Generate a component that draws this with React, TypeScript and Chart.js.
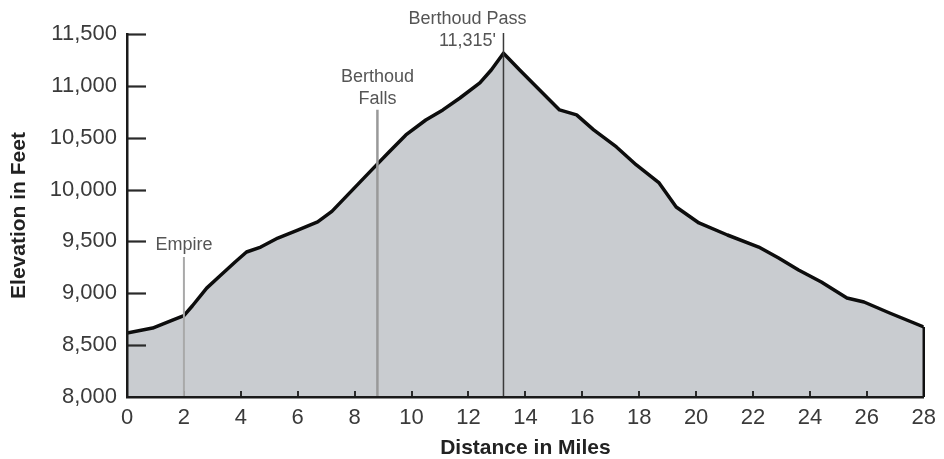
import React, { useEffect, useRef } from "react";
import { Chart, registerables } from "chart.js";

Chart.register(...registerables);

// ---- data ----
const distanceMiles = [
  0, 0.9, 1.6, 2.0, 2.3, 2.8, 3.3, 3.8, 4.2, 4.7,
  5.3, 6.0, 6.7, 7.2, 7.9, 8.6, 9.2, 9.8, 10.5, 11.1,
  11.7, 12.4, 12.8, 13.23, 13.8, 14.5, 15.2, 15.8, 16.4, 17.2,
  17.9, 18.7, 19.3, 20.1, 21.1, 22.2, 22.9, 23.6, 24.4, 25.3,
  25.9, 26.8, 28.0,
];
const elevationFeet = [
  8617, 8665, 8742, 8785, 8880, 9050, 9176, 9302, 9398, 9446,
  9533, 9610, 9688, 9790, 9990, 10190, 10360, 10527, 10671, 10768,
  10883, 11028, 11153, 11315, 11153, 10960, 10768, 10720, 10575, 10411,
  10237, 10064, 9832, 9678, 9562, 9446, 9340, 9225, 9109, 8955,
  8916, 8810, 8675,
];

const xTickValues = [0, 2, 4, 6, 8, 10, 12, 14, 16, 18, 20, 22, 24, 26, 28];
const yTickValues = [8000, 8500, 9000, 9500, 10000, 10500, 11000, 11500];

const markerLabels = [["Empire"], ["Berthoud", "Falls"], ["Berthoud Pass", "11,315'"]];
const markerMiles = [2.0, 8.8, 13.23];
const markerTopFeet = [9350, 10770, 11510];

const xTitle = "Distance in Miles";
const yTitle = "Elevation in Feet";

// ---- styles ----
const FONT = "'Liberation Sans', Arial, Helvetica, sans-serif";
const markerStyles = [
  { color: "#a9a9a9", width: 2, labelDx: 0, labelDy: -12, text: "#555" },
  { color: "#999999", width: 2.5, labelDx: 0, labelDy: -11, text: "#555" },
  { color: "#3a3a3a", width: 1.5, labelDx: -36, labelDy: 8, text: "#555" },
];

const profileDecor = {
  id: "profileDecor",
  afterDatasetsDraw(chart: any) {
    const { ctx, chartArea, scales } = chart;
    const x = scales.x;
    const y = scales.y;
    const base = y.getPixelForValue(yTickValues[0]);
    ctx.save();

    // closing edge at the end of the profile
    const lastI = distanceMiles.length - 1;
    const ex = x.getPixelForValue(distanceMiles[lastI]);
    ctx.strokeStyle = "#111";
    ctx.lineWidth = 2.5;
    ctx.beginPath();
    ctx.moveTo(ex, y.getPixelForValue(elevationFeet[lastI]));
    ctx.lineTo(ex, base);
    ctx.stroke();

    // inner tick marks on y axis
    ctx.strokeStyle = "#2a2a2a";
    ctx.lineWidth = 2.2;
    yTickValues.slice(1).forEach((v) => {
      const py = Math.round(y.getPixelForValue(v)) + 0.5;
      ctx.beginPath();
      ctx.moveTo(chartArea.left, py);
      ctx.lineTo(chartArea.left + 19, py);
      ctx.stroke();
    });

    // inner tick marks on x axis
    ctx.lineWidth = 2;
    xTickValues.slice(1, -1).forEach((v) => {
      const px = Math.round(x.getPixelForValue(v));
      ctx.beginPath();
      ctx.moveTo(px, base);
      ctx.lineTo(px, base - 6);
      ctx.stroke();
    });

    // markers
    markerMiles.forEach((m, i) => {
      const st = markerStyles[i];
      const px = x.getPixelForValue(m);
      const top = y.getPixelForValue(markerTopFeet[i]);
      ctx.strokeStyle = st.color;
      ctx.lineWidth = st.width;
      ctx.beginPath();
      ctx.moveTo(px, top);
      ctx.lineTo(px, base);
      ctx.stroke();

      ctx.fillStyle = st.text;
      ctx.font = `18px ${FONT}`;
      ctx.textAlign = "center";
      ctx.textBaseline = "middle";
      const lines = markerLabels[i];
      const lh = 22;
      lines.forEach((t, k) => {
        const ly = top + st.labelDy - (lines.length - 1 - k) * lh;
        ctx.fillText(t, px + st.labelDx, ly);
      });
    });

    ctx.restore();
  },
};

export default function App() {
  const canvasRef = useRef<HTMLCanvasElement | null>(null);

  useEffect(() => {
    document.body.style.margin = "0";
    document.body.style.background = "#ffffff";
    const canvas = canvasRef.current;
    if (!canvas) return;

    const points = distanceMiles.map((d, i) => ({ x: d, y: elevationFeet[i] }));

    const chart = new Chart(canvas, {
      type: "line",
      data: {
        datasets: [
          {
            data: points,
            borderColor: "#0d0d0d",
            borderWidth: 3.5,
            backgroundColor: "#c9ccd0",
            fill: "start",
            pointRadius: 0,
            tension: 0,
            borderJoinStyle: "round",
          } as any,
        ],
      },
      options: {
        animation: false,
        responsive: false,
        devicePixelRatio: 1,
        layout: { padding: { left: 0, right: 19, top: 34, bottom: 0 } },
        plugins: {
          legend: { display: false },
          tooltip: { enabled: false },
        },
        scales: {
          x: {
            type: "linear",
            min: 0,
            max: 28,
            afterFit: (s: any) => {
              s.height = 62;
            },
            afterBuildTicks: (s: any) => {
              s.ticks = xTickValues.map((v) => ({ value: v }));
            },
            grid: { display: false, drawTicks: false },
            border: { display: true, color: "#1a1a1a", width: 2.5, z: 1 },
            ticks: {
              padding: 8,
              color: "#3a3a3a",
              font: { family: FONT, size: 22 },
              maxRotation: 0,
              autoSkip: false,
            },
            title: {
              display: true,
              text: xTitle,
              color: "#222",
              font: { family: FONT, size: 21, weight: "bold", lineHeight: 1 },
              padding: { top: 0, bottom: 0 },
            },
          },
          y: {
            type: "linear",
            min: 8000,
            max: 11500,
            afterFit: (s: any) => {
              s.width = 127;
            },
            afterBuildTicks: (s: any) => {
              s.ticks = yTickValues.map((v) => ({ value: v }));
            },
            grid: { display: false, drawTicks: false },
            border: { display: true, color: "#1a1a1a", width: 2.5, z: 1 },
            ticks: {
              padding: 10,
              color: "#3a3a3a",
              font: { family: FONT, size: 22 },
              autoSkip: false,
              callback: (v: any) => Number(v).toLocaleString("en-US"),
            },
            title: {
              display: true,
              text: yTitle,
              color: "#222",
              font: { family: FONT, size: 21, weight: "bold", lineHeight: 1 },
              padding: { top: 9, bottom: 0 },
            },
          },
        },
      } as any,
      plugins: [profileDecor],
    });

    return () => chart.destroy();
  }, []);

  return (
    <div style={{ width: 944, height: 459, position: "relative" }}>
      <canvas ref={canvasRef} width={944} height={459} style={{ display: "block" }} />
    </div>
  );
}
